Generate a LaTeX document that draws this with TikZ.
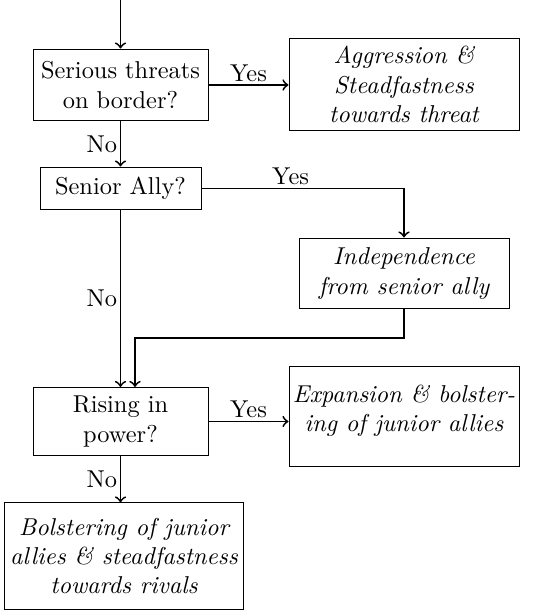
\documentclass[tikz,border=0pt]{standalone}
\begin{document}
\begin{tikzpicture}[x=0.41pt,y=-0.41pt,
  box/.style={draw,line width=0.4pt,inner sep=0pt,align=center,minimum width=#1},
  conn/.style={line width=0.75pt},
  arr/.style={conn,->},
  lbl/.style={inner sep=1pt}]
\useasboundingbox (0,0) rectangle (533,612);
\coordinate (start) at (120.5,0);
\node[box=71.75pt,minimum height=29.5pt] (q1) at (120.5,85) {Serious threats\\on border?};
\node[box=94.3pt,minimum height=38.1pt] (agg) at (404,84.5) {\itshape Aggression \&\\\itshape Steadfastness\\\itshape towards threat};
\node[box=66pt,minimum height=17.6pt] (q2) at (120.5,188.5) {Senior Ally?};
\node[box=86.1pt,minimum height=29.1pt] (ind) at (404,273.5) {\itshape Independence\\\itshape from senior ally};
\node[box=71.75pt,minimum height=27.9pt] (q3) at (120.5,421.5) {Rising in\\power?};
\node[box=94.3pt,minimum height=40.6pt] (exp) at (404,416.5) {};
\node[align=center,inner sep=0pt] (expt) at (404,411) {\itshape Expansion \& bolster-\\\itshape ing of junior allies};
\node[box=97.6pt,minimum height=43.5pt] (bol) at (124,556) {\itshape Bolstering of junior\\\itshape allies \& steadfastness\\\itshape towards rivals};
\coordinate (m1) at (135,338);
\draw[arr] (start) -- (q1.north);
\draw[arr] (q1.east) -- node[lbl,above] (y1) {Yes} (agg.west |- q1.east);
\draw[arr] (q1.south) -- node[lbl,left] (n1) {No} (q2.north);
\draw[arr] (q2.east) -| node[lbl,above,pos=0.22] (y2) {Yes} (ind.north);
\draw[arr] (q2.south) -- node[lbl,left,pos=0.5] (n2) {No} (q3.north);
\draw[arr] (ind.south) |- (m1) -- (m1 |- q3.north);
\draw[arr] (q3.east) -- node[lbl,above] (y3) {Yes} (exp.west |- q3.east);
\draw[arr] (q3.south) -- node[lbl,left] (n3) {No} (q3.south |- bol.north);
\end{tikzpicture}
\end{document}
